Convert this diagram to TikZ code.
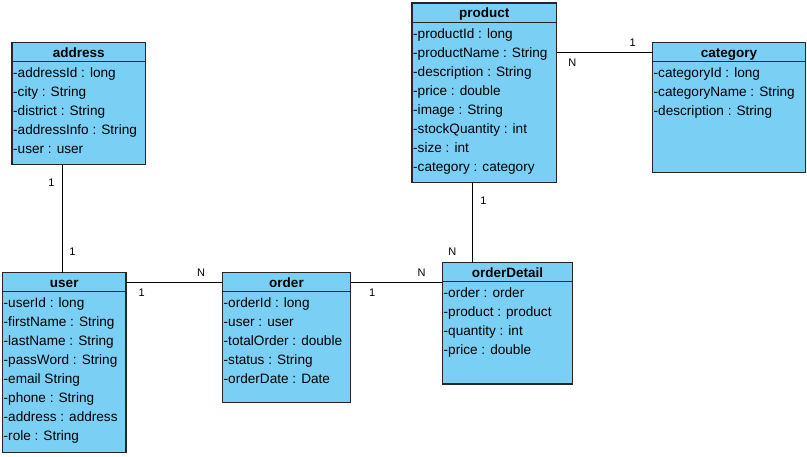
\documentclass[tikz,border=0pt]{standalone}
\usepackage{fontspec}
\setmainfont{Liberation Sans}
\definecolor{clsfill}{RGB}{122,207,245}
\newcommand\umlbox[7]{% name, left, top, right, bottom, title
  \node[clsbox, minimum width={#4-#2}, minimum height={#5-#3}] (#1) at (#2,#3) {};
  \node[clstitle] (#1-t) at ({(#2+#4)/2},{#3+14.5}) {#6};
  \draw[clsline] (#1.west |- 0,{#3+19.3}) -- (#1.east |- 0,{#3+19.3});
  \foreach \t [count=\i] in {#7} {\node[attr] (#1-a\i) at ({#2+1},{#3+35.3+19*(\i-1)}) {\t};}
}
\begin{document}
\begin{tikzpicture}[x=1pt,y=-1pt,
  clsbox/.style={draw=black!85, fill=clsfill, line width=1.2pt, anchor=north west, inner sep=0pt, outer sep=0pt},
  clsline/.style={draw=black!85, line width=1pt},
  clstitle/.style={anchor=base, inner sep=0pt, font=\fontsize{13.5}{15}\selectfont\bfseries},
  attr/.style={anchor=base west, inner sep=0pt, font=\fontsize{13.6}{15}\selectfont},
  conn/.style={draw=black, line width=0.9pt},
  mult/.style={inner sep=0pt, font=\fontsize{11}{12}\selectfont}]
\useasboundingbox[fill=white] (0,0) rectangle (807,456);
\umlbox{address}{12}{42.5}{145.5}{164.5}{address}{-addressId : long,-city : String,-district : String,-addressInfo : String,-user : user}
\umlbox{product}{412}{3}{556.5}{182.5}{product}{-productId : long,-productName : String,-description : String,-price : double,-image : String,-stockQuantity : int,-size : int,-category : category}
\umlbox{category}{652.5}{42.5}{805.5}{172.5}{category}{-categoryId : long,-categoryName : String,-description : String}
\umlbox{user}{2.5}{272.5}{126}{452.5}{user}{-userId : long,-firstName : String,-lastName : String,-passWord : String,-email String,-phone : String,-address : address,-role : String}
\umlbox{order}{222.5}{272.5}{350.5}{402.5}{order}{-orderId : long,-user : user,-totalOrder : double,-status : String,-orderDate : Date}
\umlbox{orderDetail}{442.5}{262.5}{572.5}{384}{orderDetail}{-order : order,-product : product,-quantity : int,-price : double}
% connectors
\draw[conn] (address.south -| 62.3,0) -- (user.north -| 62.3,0);
\draw[conn] (user.east |- 0,282.5) -- (order.west |- 0,282.5);
\draw[conn] (order.east |- 0,282.5) -- (orderDetail.west |- 0,282.5);
\draw[conn] (product.south -| 472.3,0) -- (orderDetail.north -| 472.3,0);
\draw[conn] (product.east |- 0,52.5) -- (category.west |- 0,52.5);
% multiplicities
\node[mult] (m1) at (51.5,183) {1};
\node[mult] (m2) at (72.5,252) {1};
\node[mult] (m3) at (141.7,292.5) {1};
\node[mult] (m4) at (201,272.5) {N};
\node[mult] (m5) at (372.3,292.3) {1};
\node[mult] (m6) at (421.7,272.3) {N};
\node[mult] (m7) at (483.5,200.7) {1};
\node[mult] (m8) at (452.3,251.7) {N};
\node[mult] (m9) at (572.3,62.3) {N};
\node[mult] (m10) at (632.7,42.3) {1};
\end{tikzpicture}
\end{document}
